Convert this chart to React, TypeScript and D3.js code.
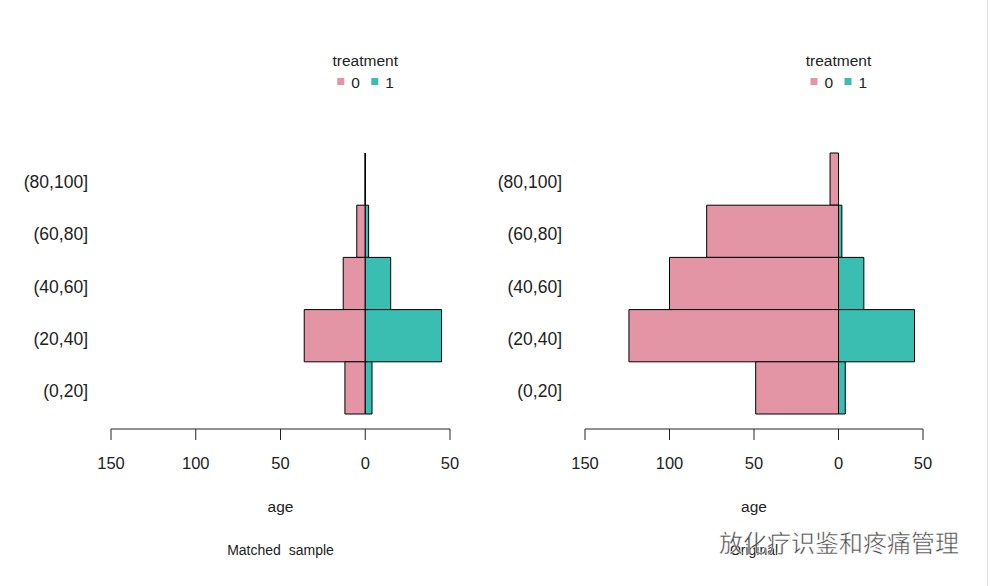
import React from "react";
import * as d3 from "d3";

// age groups, top to bottom as drawn
const ageGroups = ["(80,100]", "(60,80]", "(40,60]", "(20,40]", "(0,20]"];

// counts per age group (same order)
const matchedControl = [0, 5, 13, 36, 12];
const matchedTreated = [0, 2, 15, 45, 4];
const originalControl = [5, 78, 100, 124, 49];
const originalTreated = [0, 2, 15, 45, 4];

const tickValues = [-150, -100, -50, 0, 50];
const legendKeys = ["0", "1"];

const width = 991;
const height = 586;
const pink = "#E495A5";
const teal = "#39BEB1";
const font = "Liberation Sans, Arial, sans-serif";

const yScale = d3.scaleBand().domain(ageGroups).range([153, 414]).padding(0);
const colorScale = d3.scaleOrdinal<string>().domain(legendKeys).range([pink, teal]);

const barPath = (x0: number, x1: number, y0: number, y1: number) => {
  const p = d3.path();
  p.moveTo(x0, y0);
  p.lineTo(x1, y0);
  p.lineTo(x1, y1);
  p.lineTo(x0, y1);
  p.closePath();
  return p.toString();
};

const Panel = ({ left, right, control, treated, title }) => {
  const xScale = d3.scaleLinear().domain([-150, 50]).range([left, right]);
  const mid = (left + right) / 2;
  const zero = xScale(0);
  const axisY = 429;

  return (
    <g>
      {/* legend */}
      <text x={zero} y={66} textAnchor="middle" fontSize={15.5} fill="#222">
        treatment
      </text>
      {legendKeys.map((k, i) => (
        <g key={k} transform={`translate(${zero - 28 + i * 34}, 0)`}>
          <rect x={0} y={78} width={7} height={7} fill={colorScale(k)} />
          <text x={14} y={88} fontSize={15.5} fill="#222">
            {k}
          </text>
        </g>
      ))}

      {/* bars */}
      {ageGroups.map((g, i) => {
        const y0 = yScale(g)!;
        const y1 = y0 + yScale.bandwidth();
        return (
          <g key={g}>
            <path
              d={barPath(xScale(-control[i]), zero, y0, y1)}
              fill={pink}
              stroke="#000"
              strokeWidth={1}
            />
            <path
              d={barPath(zero, xScale(treated[i]), y0, y1)}
              fill={teal}
              stroke="#000"
              strokeWidth={1}
            />
          </g>
        );
      })}

      {/* category labels */}
      {ageGroups.map((g) => (
        <text
          key={g}
          x={left - 23}
          y={yScale(g)! + yScale.bandwidth() / 2 + 9}
          textAnchor="end"
          fontSize={17.5}
          fill="#222"
        >
          {g}
        </text>
      ))}

      {/* x axis */}
      <line x1={xScale(-150)} x2={xScale(50)} y1={axisY} y2={axisY} stroke="#222" />
      {tickValues.map((t) => (
        <g key={t}>
          <line x1={xScale(t)} x2={xScale(t)} y1={axisY} y2={axisY + 11} stroke="#222" />
          <text x={xScale(t)} y={469} textAnchor="middle" fontSize={16.5} fill="#222">
            {Math.abs(t)}
          </text>
        </g>
      ))}
      <text x={mid} y={512} textAnchor="middle" fontSize={15.5} fill="#222">
        age
      </text>
      <text x={mid} y={555} textAnchor="middle" fontSize={14} fill="#222" wordSpacing={4}>
        {title}
      </text>
    </g>
  );
};

export default function App() {
  return (
    <svg
      width={width}
      height={height}
      style={{ position: "absolute", left: 0, top: 0, background: "#fff" }}
      fontFamily={font}
    >
      <rect width={width} height={height} fill="#fff" />
      <Panel left={111} right={450} control={matchedControl} treated={matchedTreated} title="Matched sample" />
      <Panel left={585} right={923} control={originalControl} treated={originalTreated} title="Original" />
      <line x1={987.5} x2={987.5} y1={0} y2={height} stroke="#e6e6e6" />
      {/* watermark */}
      <text
        x={719}
        y={552}
        fontSize={24}
        fontFamily="Noto Sans CJK SC"
        fill="#4a4a4a"
        stroke="#fff"
        strokeWidth={0.5}
      >
        放化疗识鉴和疼痛管理
      </text>
    </svg>
  );
}
